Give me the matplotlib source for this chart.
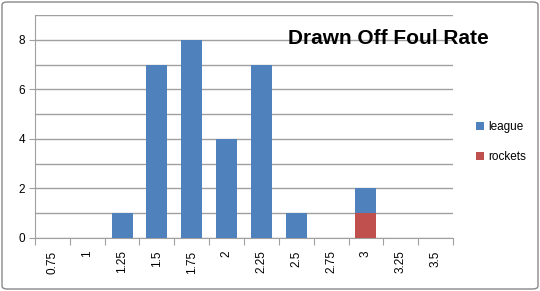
import matplotlib as mpl
mpl.use('Agg')
import matplotlib.pyplot as plt
from matplotlib.patches import FancyBboxPatch
import numpy as np

plt.rcParams['font.family'] = ['Liberation Sans', 'DejaVu Sans']

categories = ['0.75', '1', '1.25', '1.5', '1.75', '2', '2.25', '2.5', '2.75', '3', '3.25', '3.5']
league = [0, 0, 1, 7, 8, 4, 7, 1, 0, 2, 0, 0]
rockets = [0, 0, 0, 0, 0, 0, 0, 0, 0, 1, 0, 0]

blue = '#4f81bd'
red = '#c0504d'
gray = '#a0a0a0'

fig = plt.figure(figsize=(5.4, 2.91), dpi=100)
ax = fig.add_axes([35 / 540, 1 - 238 / 291, (453 - 35) / 540, (238 - 15) / 291])

x = np.arange(len(categories))
ax.bar(x, league, width=0.6, color=blue, label='league', zorder=3)
ax.bar(x, rockets, width=0.6, color=red, label='rockets', zorder=4)

ax.set_xlim(-0.5, len(categories) - 0.5)
ax.set_ylim(0, 9)
ax.set_yticks([0, 2, 4, 6, 8])
ax.set_yticks(range(1, 10), minor=True)
ax.yaxis.grid(True, which='both', color=gray, linewidth=1)
ax.set_axisbelow(True)
ax.tick_params(axis='y', which='major', length=4, color=gray, labelsize=8.5, pad=3)
ax.tick_params(axis='y', which='minor', length=0)

ax.set_xticks(np.arange(len(categories) + 1) - 0.5)
ax.set_xticklabels([])
ax.tick_params(axis='x', length=5, color=gray)
for i, c in enumerate(categories):
    ax.text(i, -0.5, c, rotation=90, ha='center', va='top', fontsize=8.5)

for s in ['top', 'right']:
    ax.spines[s].set_visible(False)
for s in ['left', 'bottom']:
    ax.spines[s].set_color(gray)

fig.text(388 / 540, 1 - 38 / 291, 'Drawn Off Foul Rate', ha='center', va='center',
         fontsize=15, fontweight='bold')

ax.legend(loc='center left', bbox_to_anchor=(465 / 540, 1 - 142 / 291),
          bbox_transform=fig.transFigure, frameon=False, fontsize=8.5,
          handlelength=0.7, handleheight=0.7, handletextpad=0.4, labelspacing=1.5)

border = FancyBboxPatch((2 / 540, 2 / 291), 536 / 540, 287 / 291,
                        boxstyle='round,pad=0,rounding_size=0.01',
                        transform=fig.transFigure, fill=False, edgecolor='#888888', linewidth=1)
fig.patches.append(border)

plt.savefig('out.png', dpi=100)
